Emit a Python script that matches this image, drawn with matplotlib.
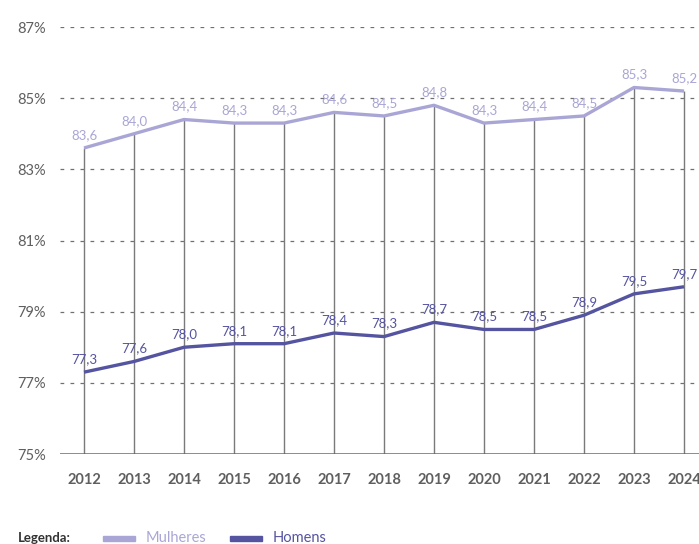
import matplotlib.pyplot as plt
from matplotlib.patches import Rectangle

# data
anos = [2012, 2013, 2014, 2015, 2016, 2017, 2018, 2019, 2020, 2021, 2022, 2023, 2024]
mulheres = [83.6, 84.0, 84.4, 84.3, 84.3, 84.6, 84.5, 84.8, 84.3, 84.4, 84.5, 85.3, 85.2]
homens = [77.3, 77.6, 78.0, 78.1, 78.1, 78.4, 78.3, 78.7, 78.5, 78.5, 78.9, 79.5, 79.7]
yticks = [75, 77, 79, 81, 83, 85, 87]

cor_m = "#a9a6d6"
cor_h = "#5554a0"
cinza = "#5f5f5f"

plt.rcParams['font.family'] = ['Lato', 'DejaVu Sans']

fig = plt.figure(figsize=(6.99, 5.44), dpi=100)
ax = fig.add_axes([60 / 699, 90 / 544, 639 / 699, 427 / 544])
ax.set_xlim(2012 - 0.48, 2012 + 615 / 50)
ax.set_ylim(75, 87)

# gridlines
for t in yticks[1:]:
    ax.axhline(t, color="#707070", lw=0.9, ls=(0, (3, 5)), zorder=1)
ax.axhline(75, color="#6a6a6a", lw=1.8, zorder=3)

# vertical drop lines
ax.vlines(anos, 75, mulheres, color="#7a7a7a", lw=1.0, zorder=2)

ax.plot(anos, mulheres, color=cor_m, lw=2.4, zorder=4, solid_capstyle="butt")
ax.plot(anos, homens, color=cor_h, lw=2.4, zorder=4, solid_capstyle="butt")

for x, v in zip(anos, mulheres):
    ax.annotate(f"{v:.1f}".replace(".", ","), (x, v), xytext=(0, 5),
                textcoords="offset points", ha="center", va="bottom",
                color=cor_m, fontsize=9.5, zorder=5, annotation_clip=False)
for x, v in zip(anos, homens):
    ax.annotate(f"{v:.1f}".replace(".", ","), (x, v), xytext=(0, 5),
                textcoords="offset points", ha="center", va="bottom",
                color=cor_h, fontsize=9.5, zorder=5, annotation_clip=False)

ax.set_yticks(yticks)
ax.set_yticklabels([f"{t}%" for t in yticks], color=cinza, fontsize=10.5)
ax.set_xticks(anos)
ax.set_xticklabels([str(a) for a in anos], color=cinza, fontsize=10.5, fontweight="bold")
ax.tick_params(axis="y", length=0, pad=10)
ax.tick_params(axis="x", length=0, pad=14)
for s in ax.spines.values():
    s.set_visible(False)

# legend at the bottom
fig.text(18 / 699, 1 - 538 / 544, "Legenda:", fontsize=9.5, fontweight="bold",
         color="#333333", va="center")
fig.patches.append(Rectangle((103 / 699, 1 - 541 / 544), 32 / 699, 5 / 544,
                             transform=fig.transFigure, color=cor_m))
fig.text(146 / 699, 1 - 538 / 544, "Mulheres", fontsize=10.5, color=cor_m, va="center")
fig.patches.append(Rectangle((230 / 699, 1 - 541 / 544), 32 / 699, 5 / 544,
                             transform=fig.transFigure, color=cor_h))
fig.text(273 / 699, 1 - 538 / 544, "Homens", fontsize=10.5, color=cor_h, va="center")

fig.savefig("out.png", dpi=100)
